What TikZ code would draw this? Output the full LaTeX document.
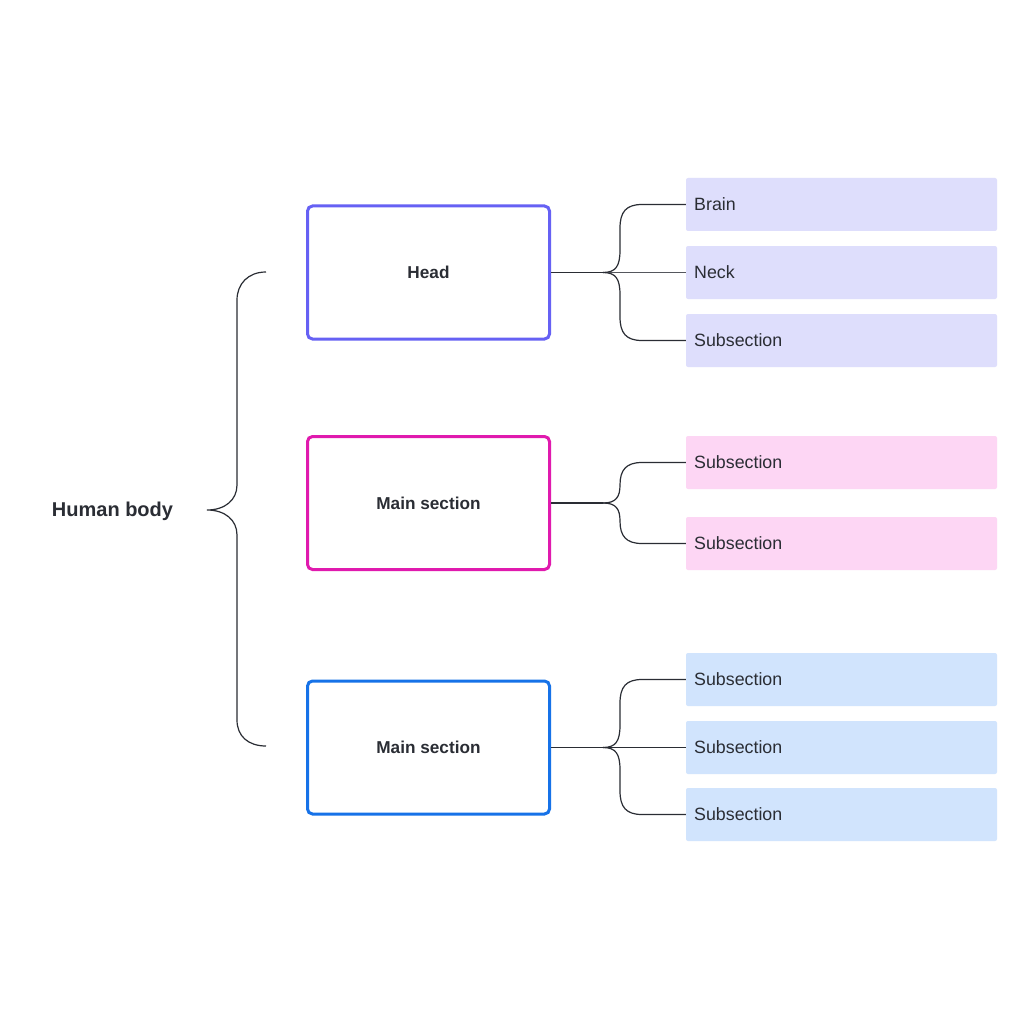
\documentclass[tikz,border=0pt]{standalone}
\usepackage{fontspec}
\setmainfont{Liberation Sans}
\definecolor{txt}{HTML}{2A2D34}
\definecolor{cHead}{HTML}{6661F4}
\definecolor{cMag}{HTML}{E01AAE}
\definecolor{cBlue}{HTML}{1672E8}
\definecolor{fHead}{HTML}{DEDEFC}
\definecolor{fMag}{HTML}{FDD6F4}
\definecolor{fBlue}{HTML}{D1E4FD}
\begin{document}
\begin{tikzpicture}[x=1pt,y=-1pt,
  mainbox/.style={draw, line width=3pt, rounded corners=5pt, minimum width=242pt, minimum height=133pt, fill=white, inner sep=0pt, font=\bfseries\fontsize{17.2}{20}\selectfont, text=txt},
  subbox/.style={fill=#1, rounded corners=2pt, minimum width=311pt, minimum height=53pt, inner sep=0pt},
  sublabel/.style={anchor=west, font=\fontsize{17.8}{21}\selectfont, text=txt, inner sep=0pt},
  conn/.style={draw=txt, line width=1.2pt},
  thin/.style={draw=txt!80, line width=0.8pt}]
\useasboundingbox (0,0) rectangle (1024,1024);
\fill[white] (0,0) rectangle (1024,1024);

% main boxes
\node[mainbox, draw=cHead] (head) at (428.5,272.5) {Head};
\node[mainbox, draw=cMag] (mid) at (428.5,503) {Main section};
\node[mainbox, draw=cBlue] (low) at (428.5,747.5) {Main section};

% sub boxes
\node[subbox=fHead] (s1) at (841.5,204.5) {};
\node[subbox=fHead] (s2) at (841.5,272.5) {};
\node[subbox=fHead] (s3) at (841.5,340.5) {};
\node[subbox=fMag] (s4) at (841.5,462.5) {};
\node[subbox=fMag] (s5) at (841.5,543.5) {};
\node[subbox=fBlue] (s6) at (841.5,679.5) {};
\node[subbox=fBlue] (s7) at (841.5,747.5) {};
\node[subbox=fBlue] (s8) at (841.5,814.5) {};

\node[sublabel] (l1) at (694,204.5) {Brain};
\node[sublabel] (l2) at (694,272.5) {Neck};
\node[sublabel] (l3) at (694,340.5) {Subsection};
\node[sublabel] (l4) at (694,462.5) {Subsection};
\node[sublabel] (l5) at (694,543.5) {Subsection};
\node[sublabel] (l6) at (694,679.5) {Subsection};
\node[sublabel] (l7) at (694,747.5) {Subsection};
\node[sublabel] (l8) at (694,814.5) {Subsection};

\node[font=\bfseries\fontsize{20}{24}\selectfont, text=txt] (hb) at (112.5,511.5) {Human body};

% big brace
\coordinate (bt) at (266,272);
\coordinate (bb) at (266,746);
\coordinate (tip) at (207,510);
\draw[conn] (bt) .. controls (248,272) and (237,284) .. (237,300) -- (237,485)
  .. controls (237,500) and (225,510) .. (tip)
  .. controls (225,510) and (237,520) .. (237,535) -- (237,720)
  .. controls (237,736) and (248,746) .. (bb);

% head connectors
\coordinate (hj) at (603,272.5);
\draw[conn] (head.east) -- (hj);
\draw[conn] (hj) .. controls (616,272.5) and (620,266) .. (620,250) -- (620,228)
  .. controls (620,212) and (626,204.5) .. (642,204.5) -- (s1.west);
\draw[thin] (hj) -- (s2.west);
\draw[conn] (hj) .. controls (616,272.5) and (620,279) .. (620,295) -- (620,317)
  .. controls (620,333) and (626,340.5) .. (642,340.5) -- (s3.west);

% mid connectors
\coordinate (mj) at (603,503);
\draw[conn] (mid.east) -- (mj);
\draw[conn] (mj) .. controls (616,503) and (620,497) .. (620,485)
  .. controls (620,470) and (626,462.5) .. (642,462.5) -- (s4.west);
\draw[conn] (mj) .. controls (616,503) and (620,509) .. (620,521)
  .. controls (620,536) and (626,543.5) .. (642,543.5) -- (s5.west);

% low connectors
\coordinate (lj) at (603,747.5);
\draw[conn] (low.east) -- (lj);
\draw[conn] (lj) .. controls (616,747.5) and (620,741) .. (620,725) -- (620,703)
  .. controls (620,687) and (626,679.5) .. (642,679.5) -- (s6.west);
\draw[conn] (lj) -- (s7.west);
\draw[conn] (lj) .. controls (616,747.5) and (620,754) .. (620,770) -- (620,791)
  .. controls (620,807) and (626,814.5) .. (642,814.5) -- (s8.west);
\end{tikzpicture}
\end{document}
